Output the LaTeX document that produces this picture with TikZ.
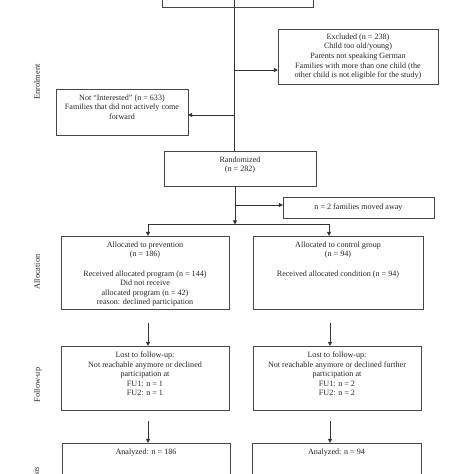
\documentclass[tikz,border=0pt]{standalone}
\usepackage{fontspec}
\setmainfont{Liberation Serif}
\usetikzlibrary{arrows.meta}
\begin{document}
\begin{tikzpicture}[x=1pt,y=-1pt,
  boxstyle/.style={draw=black!72, line width=0.8pt, inner sep=0pt, outer sep=0pt, anchor=north west},
  txt/.style={font=\fontsize{8.1}{9.6}\selectfont, align=center, anchor=north, inner sep=0pt, text=black!85},
  ctxt/.style={font=\fontsize{8.1}{9.6}\selectfont, align=center, text=black!85},
  side/.style={font=\fontsize{8.3}{9.6}\selectfont, rotate=90, inner sep=0pt, text=black!85},
  conn/.style={draw=black!80, line width=0.8pt},
  arr/.style={conn, -{Triangle[length=4.2pt,width=4pt]}}]
\useasboundingbox (0,0) rectangle (474,474);
\clip (0,0) rectangle (474,474);
% boxes
\node[boxstyle, minimum width=151pt, minimum height=50pt] (top) at (162,-43) {};
\node[boxstyle, minimum width=160pt, minimum height=55pt, align=center] (excl) at (278,29) {};
\node[ctxt] (exclt) at (excl.center) {Excluded (n = 238)\\Child too old/young)\\Parents not speaking German\\Families with more than one child (the\\other child is not eligible for the study)};
\node[boxstyle, minimum width=132pt, minimum height=46pt] (ni) at (56,89) {};
\node[txt, yshift=-5.5pt] (nit) at (ni.north) {Not “Interested” (n = 633)\\Families that did not actively come\\forward};
\node[boxstyle, minimum width=152pt, minimum height=35pt] (rand) at (164,151) {};
\node[txt, yshift=-5.5pt] (randt) at (rand.north) {Randomized\\(n = 282)};
\node[boxstyle, minimum width=151pt, minimum height=21pt] (mv) at (283,197) {};
\node[ctxt] (mvt) at (mv.center) {n = 2 families moved away};
\node[boxstyle, minimum width=168pt, minimum height=73pt] (al) at (61,236) {};
\node[txt, yshift=-5.5pt] (alt) at (al.north) {Allocated to prevention\\(n = 186)\\[9.6pt]Received allocated program (n = 144)\\Did not receive\\allocated program (n = 42)\\reason: declined participation};
\node[boxstyle, minimum width=170pt, minimum height=73pt] (ar) at (253,236) {};
\node[txt, yshift=-5.5pt] (art) at (ar.north) {Allocated to control group\\(n = 94)\\[9.6pt]Received allocated condition (n = 94)};
\node[boxstyle, minimum width=168pt, minimum height=64pt] (fl) at (61,346) {};
\node[txt, yshift=-5.5pt] (flt) at (fl.north) {Lost to follow-up:\\Not reachable anymore or declined\\participation at\\FU1: n = 1\\FU2: n = 1};
\node[boxstyle, minimum width=168pt, minimum height=64pt] (fr) at (253,346) {};
\node[txt, yshift=-5.5pt] (frt) at (fr.north) {Lost to follow-up:\\Not reachable anymore or declined further\\participation at\\FU1: n = 2\\FU2: n = 2};
\node[boxstyle, minimum width=168pt, minimum height=60pt] (nl) at (62,443) {};
\node[txt, yshift=-5.5pt] (nlt) at (nl.north) {Analyzed: n = 186};
\node[boxstyle, minimum width=169pt, minimum height=60pt] (nr) at (252,443) {};
\node[txt, yshift=-5.5pt] (nrt) at (nr.north) {Analyzed: n = 94};
% side labels
\node[side] (s1) at (37,82) {Enrolment};
\node[side] (s2) at (37,272) {Allocation};
\node[side] (s3) at (38,385) {Follow-up};
\node[side, anchor=east] (s4) at (37,467) {Analysis};
% connectors
\coordinate (t0) at (234,0);
\draw[conn] (t0) -- (t0 |- rand.north);
\coordinate (b1) at (234,70);
\draw[arr] (b1) -- (excl.west |- b1);
\coordinate (b2) at (234,115);
\draw[arr] (b2) -- (ni.east |- b2);
\coordinate (r0) at (235,186);
\coordinate (split) at (235,224.5);
\draw[arr] (r0) -- (split);
\coordinate (b3) at (235,205);
\draw[arr] (b3) -- (mv.west |- b3);
\coordinate (sl) at (148,224);
\coordinate (sr) at (329,224);
\draw[conn] (sl) -- (sr);
\draw[arr] (sl) -- (sl |- al.north);
\draw[arr] (sr) -- (sr |- ar.north);
\coordinate (f1) at (148,323);
\coordinate (f2) at (330,323);
\draw[arr] (f1) -- (f1 |- fl.north);
\draw[arr] (f2) -- (f2 |- fr.north);
\coordinate (g1) at (148,421);
\coordinate (g2) at (330,421);
\draw[arr] (g1) -- (g1 |- nl.north);
\draw[arr] (g2) -- (g2 |- nr.north);
\end{tikzpicture}
\end{document}
